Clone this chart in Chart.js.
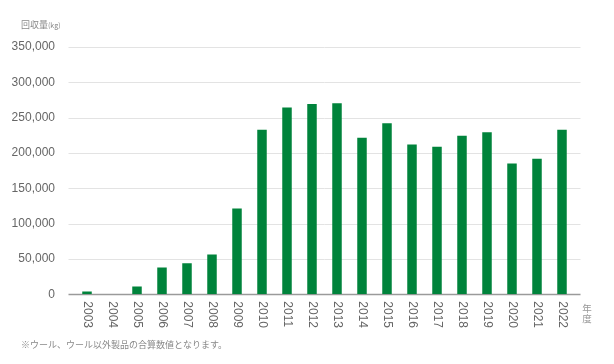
<!DOCTYPE html>
<html>
<head>
<meta charset="utf-8">
<script src="https://cdn.jsdelivr.net/npm/chart.js@4/dist/chart.umd.min.js"></script>
<style>
  html, body { margin: 0; padding: 0; background: #fff; }
  #wrap { width: 614px; height: 364px; position: relative; }
</style>
</head>
<body>
<div id="wrap"><canvas id="chart"></canvas></div>
<script>
const years = ["2003", "2004", "2005", "2006", "2007", "2008", "2009", "2010", "2011", "2012",
  "2013", "2014", "2015", "2016", "2017", "2018", "2019", "2020", "2021", "2022"];
const amounts = [4000, 0, 11000, 38000, 44000, 56500, 121500, 233000, 264500, 269500,
  270500, 221500, 242000, 212000, 209000, 224500, 229500, 185000, 192000, 233000];
const yTicks = [0, 50000, 100000, 150000, 200000, 250000, 300000, 350000];

const baseFont = "'Helvetica Neue', Arial, 'Liberation Sans', 'Noto Sans CJK JP', sans-serif";
const jpFont = "'Noto Sans CJK JP', sans-serif";

// grid lines a bit wider than the plot, plus rotated year labels and notes
const decorations = {
  id: "decorations",
  beforeDatasetsDraw(chart) {
    const { ctx, chartArea, scales } = chart;
    ctx.save();
    yTicks.forEach(v => {
      const y = Math.round(scales.y.getPixelForValue(v)) + 0.5;
      ctx.strokeStyle = v === 0 ? "#9a9a9a" : "#e3e3e3";
      ctx.lineWidth = v === 0 ? 1.5 : 1;
      ctx.beginPath();
      ctx.moveTo(chartArea.left - 6, y);
      ctx.lineTo(chartArea.right + 6, y);
      ctx.stroke();
    });
    ctx.restore();
  },
  afterDraw(chart) {
    const { ctx, chartArea, scales } = chart;
    ctx.save();
    ctx.fillStyle = "#666";
    ctx.font = "12px " + baseFont;
    ctx.textAlign = "left";
    ctx.textBaseline = "middle";
    years.forEach((label, i) => {
      const x = scales.x.getPixelForValue(i);
      ctx.save();
      ctx.translate(x, chartArea.bottom + 7);
      ctx.rotate(Math.PI / 2);
      ctx.fillText(label, 0, 0);
      ctx.restore();
    });

    // "年度" stacked vertically
    ctx.fillStyle = "#999";
    ctx.font = "9.5px " + jpFont;
    ctx.textAlign = "center";
    ctx.fillText("年", 587, 308);
    ctx.fillText("度", 587, 318);

    // axis title
    ctx.textAlign = "left";
    ctx.fillStyle = "#888";
    ctx.font = "9px " + jpFont;
    ctx.fillText("回収量", 21, 25);
    const w = ctx.measureText("回収量").width;
    ctx.font = "7px " + jpFont;
    ctx.fillText("(kg)", 21 + w, 25.5);

    // footnote
    ctx.fillStyle = "#888";
    ctx.font = "9px " + jpFont;
    ctx.fillText("※ウール、ウール以外製品の合算数値となります。", 21, 345);
    ctx.restore();
  }
};

new Chart(document.getElementById("chart"), {
  type: "bar",
  data: {
    labels: years,
    datasets: [{
      data: amounts,
      backgroundColor: "#00833b",
      barPercentage: 0.38,
      categoryPercentage: 1
    }]
  },
  options: {
    responsive: true,
    maintainAspectRatio: false,
    animation: false,
    layout: { padding: { top: 47, right: 39.5, bottom: 0, left: 0 } },
    plugins: {
      legend: { display: false },
      tooltip: { enabled: false }
    },
    scales: {
      x: {
        grid: { display: false },
        border: { display: false },
        ticks: { display: false },
        afterFit(scale) { scale.height = 69.7; }
      },
      y: {
        min: 0,
        max: 350000,
        grid: { display: false },
        border: { display: false },
        afterFit(scale) { scale.width = 74.5; },
        afterBuildTicks(scale) { scale.ticks = yTicks.map(v => ({ value: v })); },
        ticks: {
          padding: 11.5,
          color: "#666",
          font: { size: 12, family: baseFont },
          callback: v => v.toLocaleString("en-US")
        }
      }
    }
  },
  plugins: [decorations]
});
</script>
</body>
</html>
